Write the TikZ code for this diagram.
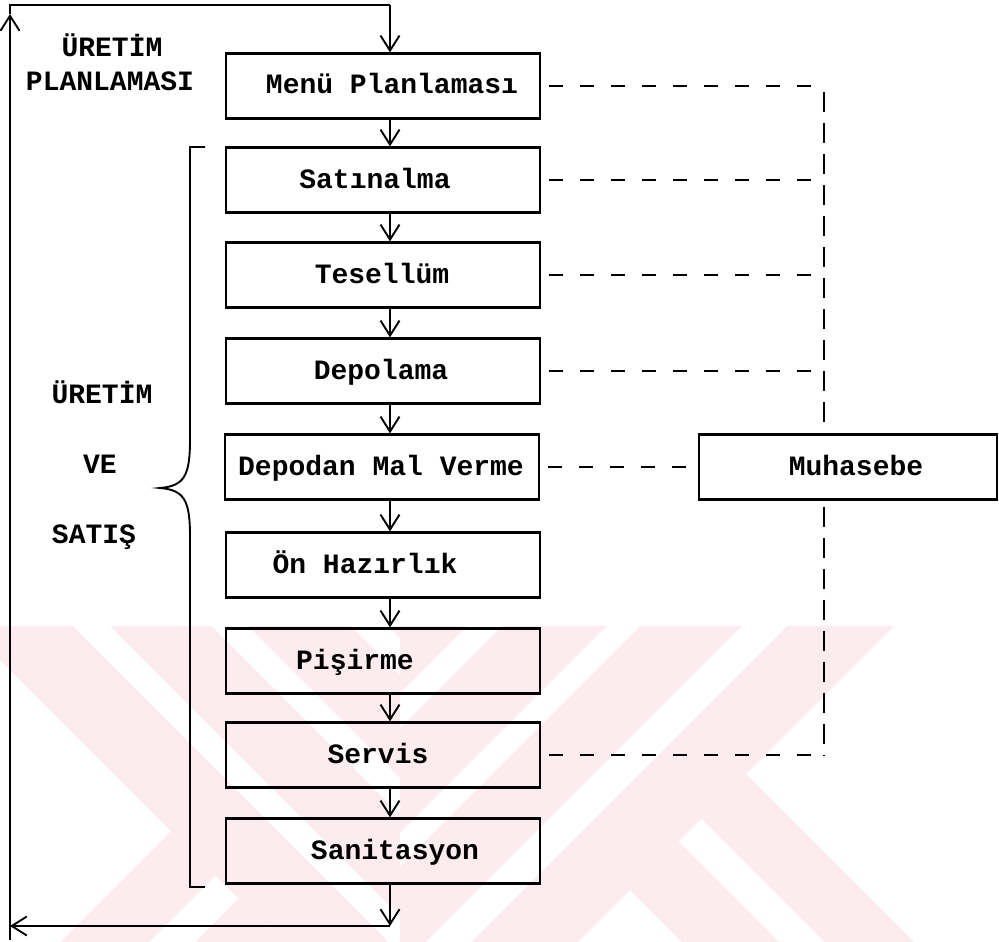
\documentclass[tikz,border=0pt]{standalone}
\usepackage{fontspec}
\setmainfont{Liberation Mono}
\usetikzlibrary{arrows.meta}
\definecolor{wm}{RGB}{253,236,239}
% label text centred at a horizontal offset (in pt) from the node centre
\newcommand{\offtext}[2]{\hbox to 0pt{\hss\kern#1pt\relax #2\kern-#1pt\relax\hss}}
\tikzset{
  stage/.style={draw, line width=2.3pt, minimum width=314pt, minimum height=65pt,
    inner sep=0pt, text height=16pt, text depth=0pt,
    font=\bfseries\fontsize{28}{30}\selectfont},
  sidelabel/.style={inner sep=0pt, text height=16pt, text depth=0pt,
    font=\bfseries\fontsize{28}{30}\selectfont},
  flow/.style={line width=1.9pt, -{Straight Barb[length=15pt,width=19pt,line width=1.9pt]}},
  frame/.style={line width=1.9pt},
  hdash/.style={line width=2pt, dash pattern=on 14pt off 17pt, dash phase=23pt},
  vdash/.style={line width=2pt, dash pattern=on 20pt off 11pt, dash phase=25pt},
}
\begin{document}
\begin{tikzpicture}[x=1pt,y=-1pt]
\useasboundingbox (0,0) rectangle (999,942);

% faint striped emblem in the lower part of the page
\begin{scope}
  \clip (0,626) rectangle (999,942);
  % right: rising stripes
  \begin{scope}
    \clip (400,626) -- (894,626) -- (578,942) -- (400,942) -- cycle;
    \fill[wm] (400,626) -- (894,626) -- (578,942) -- (400,942) -- cycle;
    \foreach \a/\b in {1368/1413, 1233/1266, 1093/1128}
      \fill[white] (\a-600,600) -- (\b-600,600) -- (\b-1000,1000) -- (\a-1000,1000) -- cycle;
  \end{scope}
  % right: falling stripes
  \begin{scope}
    \clip (894,626) -- (1100,626) -- (1100,942) -- (578,942) -- cycle;
    \foreach \a/\b in {-117/-28, -260/-163}
      \fill[wm] (\a+600,600) -- (\b+600,600) -- (\b+1000,1000) -- (\a+1000,1000) -- cycle;
  \end{scope}
  % left: falling stripes
  \begin{scope}
    \clip (-34,626) -- (400,626) -- (400,942) -- (282,942) -- cycle;
    \fill[wm] (-34,626) -- (400,626) -- (400,942) -- (282,942) -- cycle;
    \foreach \a/\b in {-553/-516, -414/-378, -275/-238}
      \fill[white] (\a+600,600) -- (\b+600,600) -- (\b+1000,1000) -- (\a+1000,1000) -- cycle;
  \end{scope}
  % left: rising stripes
  \begin{scope}
    \clip (-34,626) -- (282,942) -- (-100,942) -- (-100,626) -- cycle;
    \foreach \a/\b in {1002/1091, 1137/1234}
      \fill[wm] (\a-600,600) -- (\b-600,600) -- (\b-1000,1000) -- (\a-1000,1000) -- cycle;
  \end{scope}
\end{scope}

% process chain
\node[stage] (M)  at (383,86)  {\offtext{9}{Menü Planlaması}};
\node[stage] (S)  at (383,180) {\offtext{-8}{Satınalma}};
\node[stage] (T)  at (383,275) {\offtext{-1}{Tesellüm}};
\node[stage] (D)  at (383,371) {\offtext{-2}{Depolama}};
\node[stage] (DM) at (382,467) {\offtext{-1}{Depodan Mal Verme}};
\node[stage] (O)  at (383,565) {\offtext{-18}{Ön Hazırlık}};
\node[stage] (P)  at (383,661) {\offtext{-28}{Pişirme}};
\node[stage] (Sv) at (383,755) {\offtext{-5}{Servis}};
\node[stage] (Sn) at (383,851) {\offtext{12}{Sanitasyon}};
\node[stage, minimum width=298pt] (Mu) at (848,467) {\offtext{8}{Muhasebe}};

% side captions
\node[sidelabel] (up1) at (112,49)  {ÜRETİM};
\node[sidelabel] (up2) at (110,82)  {PLANLAMASI};
\node[sidelabel] (us1) at (102,395) {ÜRETİM};
\node[sidelabel] (us2) at (100,465) {VE};
\node[sidelabel] (us3) at (94,535)  {SATIŞ};

% helper points
\coordinate (ax)  at (390,0);
\coordinate (vx)  at (824,0);
\coordinate (tl)  at (10,5);
\coordinate (tlh) at (10,14);
\coordinate (tr)  at (390,5);
\coordinate (bl)  at (10,926);
\coordinate (br)  at (390,926);
\coordinate (lb)  at (10,940);

% downward flow
\draw[flow] (M.south -| ax)  -- (S.north -| ax);
\draw[flow] (S.south -| ax)  -- (T.north -| ax);
\draw[flow] (T.south -| ax)  -- (D.north -| ax);
\draw[flow] (D.south -| ax)  -- (DM.north -| ax);
\draw[flow] (DM.south -| ax) -- (O.north -| ax);
\draw[flow] (O.south -| ax)  -- (P.north -| ax);
\draw[flow] (P.south -| ax)  -- (Sv.north -| ax);
\draw[flow] (Sv.south -| ax) -- (Sn.north -| ax);
\draw[flow] (Sn.south -| ax) -- (br);

% feedback loop
\draw[flow] (br) -- (bl);
\draw[flow] (lb) -- (tlh);
\draw[frame] (tlh) -- (tl) -- (tr);
\draw[flow] (tr) -- (M.north -| ax);

% brace of the production and sales group
\draw[frame] (205,147) -- (190,147) -- (190,440)
  .. controls (190,476) and (184,486) .. (160,488)
  .. controls (184,490) and (190,500) .. (190,536)
  -- (190,887) -- (205,887);

% accounting links
\draw[hdash] (M.east)  -- (M.east -| vx);
\draw[vdash] (M.east -| vx) -- (Mu.north -| vx);
\draw[hdash] (S.east)  -- (S.east -| vx);
\draw[hdash] (T.east)  -- (T.east -| vx);
\draw[hdash] (D.east)  -- (D.east -| vx);
\draw[hdash] (DM.east) -- (Mu.west);
\draw[vdash] (Mu.south -| vx) -- (Sv.east -| vx);
\draw[hdash] (Sv.east) -- (Sv.east -| vx);
\end{tikzpicture}
\end{document}
